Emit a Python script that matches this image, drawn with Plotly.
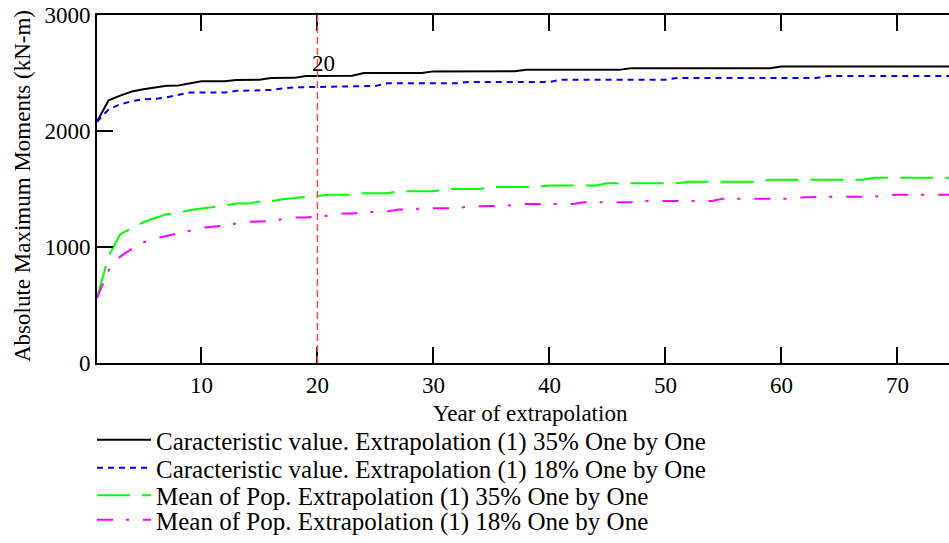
import plotly.graph_objects as go

# ---------------- data ----------------
years = list(range(1, 76))

char_35 = [2080, 2265, 2305, 2340, 2360, 2375, 2390, 2392, 2410, 2428,
           2428, 2428, 2440, 2440, 2442, 2457, 2457, 2458, 2474, 2475,
           2477, 2477, 2477, 2500, 2500, 2500, 2500, 2500, 2501, 2514,
           2514, 2514, 2514, 2515, 2515, 2515, 2515, 2527, 2527, 2527,
           2527, 2527, 2527, 2527, 2527, 2527, 2540, 2540, 2540, 2540,
           2540, 2540, 2540, 2540, 2540, 2540, 2540, 2540, 2540, 2557,
           2557, 2557, 2557, 2557, 2557, 2557, 2557, 2557, 2557, 2557,
           2557, 2557, 2557, 2557, 2557]

char_18 = [2080, 2186, 2230, 2257, 2274, 2277, 2291, 2314, 2331, 2331,
           2331, 2331, 2346, 2350, 2354, 2354, 2366, 2377, 2378, 2380,
           2383, 2389, 2389, 2389, 2389, 2411, 2411, 2411, 2411, 2411,
           2411, 2411, 2423, 2423, 2423, 2423, 2423, 2423, 2423, 2423,
           2442, 2442, 2442, 2442, 2442, 2442, 2442, 2442, 2442, 2442,
           2457, 2457, 2457, 2457, 2457, 2457, 2457, 2457, 2457, 2457,
           2457, 2457, 2457, 2474, 2474, 2474, 2474, 2474, 2474, 2474,
           2474, 2474, 2474, 2474, 2474]

mean_35 = [563, 920, 1110, 1160, 1213, 1250, 1283, 1294, 1317, 1331,
           1343, 1357, 1374, 1374, 1391, 1395, 1411, 1420, 1434, 1440,
           1451, 1451, 1451, 1463, 1463, 1463, 1480, 1480, 1480, 1480,
           1500, 1500, 1500, 1500, 1517, 1517, 1517, 1517, 1517, 1531,
           1531, 1531, 1531, 1531, 1549, 1549, 1549, 1549, 1549, 1549,
           1549, 1563, 1563, 1563, 1563, 1563, 1563, 1563, 1580, 1580,
           1580, 1580, 1580, 1580, 1580, 1580, 1580, 1597, 1597, 1597,
           1597, 1597, 1597, 1597, 1597]

mean_18 = [560, 800, 917, 983, 1040, 1075, 1095, 1115, 1140, 1165,
           1172, 1185, 1203, 1218, 1220, 1225, 1240, 1254, 1254, 1262,
           1270, 1289, 1289, 1300, 1306, 1306, 1323, 1323, 1334, 1334,
           1334, 1334, 1350, 1354, 1354, 1354, 1365, 1371, 1371, 1371,
           1371, 1371, 1386, 1386, 1386, 1386, 1386, 1397, 1397, 1397,
           1397, 1397, 1397, 1397, 1417, 1417, 1417, 1417, 1417, 1417,
           1417, 1428, 1434, 1434, 1434, 1434, 1434, 1434, 1443, 1451,
           1451, 1451, 1451, 1451, 1451]

series_names = [
    "Caracteristic value. Extrapolation (1) 35% One by One",
    "Caracteristic value. Extrapolation (1) 18% One by One",
    "Mean of Pop. Extrapolation (1) 35% One by One",
    "Mean of Pop. Extrapolation (1) 18% One by One",
]
x_ticks = [10, 20, 30, 40, 50, 60, 70]
y_ticks = [0, 1000, 2000, 3000]
marker_year = 20
marker_label = "20"
x_title = "Year of extrapolation"
y_title = "Absolute Maximum Moments (kN-m)"

# ---------------- layout constants ----------------
W, H = 949, 543
L, R, T, B = 97, 0, 15, 180
PW, PH = W - L - R, H - T - B
FONT = "Liberation Serif"
AX_FS = 23
LG_FS = 25
ITEM_W = 54

styles = [("#000000", "solid"), ("#0000ff", "6px,5px"),
          ("#00ff00", "33px,12px"), ("#ff00ff", "16px,13px,3px,14px")]
legend_ids = ["legend", "legend2", "legend3", "legend4"]
legend_rows = [440, 468, 495.5, 520]


def paper_y(py):
    return (T + PH - py) / PH


fig = go.Figure()
for name, vals, (col, dash), lg in zip(series_names,
                                       [char_35, char_18, mean_35, mean_18],
                                       styles, legend_ids):
    fig.add_trace(go.Scatter(x=years, y=vals, mode="lines", name=name,
                             line=dict(color=col, width=2, dash=dash),
                             legend=lg))

fig.add_vline(x=marker_year, line=dict(color="#ff4a4a", width=1.5, dash="7px,4px"))
fig.add_annotation(x=marker_year, y=2580, text=marker_label, showarrow=False,
                   xanchor="center", yanchor="middle", xshift=6,
                   font=dict(family=FONT, size=AX_FS, color="black"))

fig.add_annotation(xref="paper", yref="paper", x=(530 - L) / PW,
                   y=paper_y(413), text=x_title, showarrow=False,
                   xanchor="center", yanchor="middle",
                   font=dict(family=FONT, size=AX_FS, color="black"))
fig.add_annotation(xref="paper", yref="paper", x=(22 - L) / PW,
                   y=paper_y(186), text=y_title, showarrow=False,
                   textangle=-90, xanchor="center", yanchor="middle",
                   font=dict(family=FONT, size=AX_FS, color="black"))

layout_legends = {}
for lg, row in zip(legend_ids, legend_rows):
    layout_legends[lg] = dict(
        xref="paper", yref="paper",
        x=(97 - 5 - L) / PW, xanchor="left",
        y=paper_y(row), yanchor="middle",
        bgcolor="rgba(0,0,0,0)", borderwidth=0, itemwidth=ITEM_W,
        font=dict(family=FONT, size=LG_FS, color="black"))

fig.update_layout(
    width=W, height=H,
    margin=dict(l=L, r=R, t=T, b=B, pad=0),
    paper_bgcolor="white", plot_bgcolor="white",
    font=dict(family=FONT, size=AX_FS, color="black"),
    showlegend=True,
    xaxis=dict(range=[1, 1 + PW / 11.6], tickvals=x_ticks,
               ticks="inside", ticklen=16, tickwidth=2, tickcolor="black",
               showline=True, linecolor="black", linewidth=2, mirror="ticks",
               showgrid=False, zeroline=False,
               tickfont=dict(family=FONT, size=AX_FS, color="black")),
    yaxis=dict(range=[0, 3000], tickvals=y_ticks,
               ticks="inside", ticklen=16, tickwidth=2, tickcolor="black",
               showline=True, linecolor="black", linewidth=2,
               showgrid=False, zeroline=False,
               tickfont=dict(family=FONT, size=AX_FS, color="black")),
    yaxis2=dict(range=[0, 3000], tickvals=y_ticks, overlaying="y", side="right",
                ticks="inside", ticklen=9, tickwidth=2, tickcolor="black",
                showticklabels=False, showline=False, showgrid=False,
                zeroline=False),
    **layout_legends,
)

fig.write_html("out.html")
